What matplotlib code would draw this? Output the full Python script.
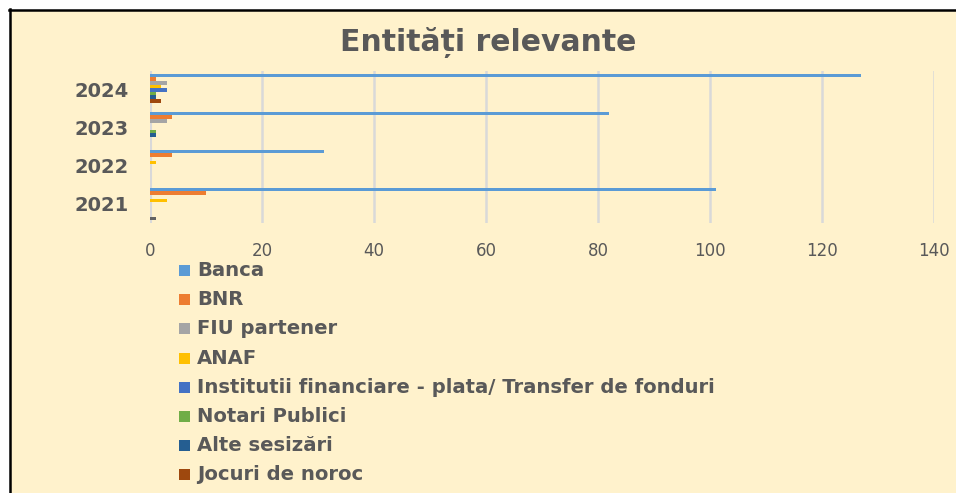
import matplotlib
matplotlib.use("Agg")
import matplotlib.pyplot as plt
from matplotlib.patches import Rectangle
from matplotlib.lines import Line2D
import numpy as np

years = ["2021", "2022", "2023", "2024"]
series_names = ["Banca", "BNR", "FIU partener", "ANAF",
                "Institutii financiare - plata/ Transfer de fonduri",
                "Notari Publici", "Alte sesizări", "Jocuri de noroc", ""]
banca = [101, 31, 82, 127]
bnr = [10, 4, 4, 1]
fiu = [0, 0, 3, 3]
anaf = [3, 1, 0, 2]
institutii = [0, 0, 0, 3]
notari = [0, 0, 1, 1]
alte = [0, 0, 1, 1]
jocuri = [0, 0, 0, 2]
other = [1, 0, 0, 0]
values = [banca, bnr, fiu, anaf, institutii, notari, alte, jocuri, other]
colors = ["#5B9BD5", "#ED7D31", "#A5A5A5", "#FFC000", "#4472C4",
          "#70AD47", "#255E91", "#9E480E", "#636363"]
xticks = [0, 20, 40, 60, 80, 100, 120, 140]

W, H = 956, 493
fig = plt.figure(figsize=(W / 100, H / 100), dpi=100)
fig.patch.set_facecolor("white")

# background panel with border
fig.add_artist(Rectangle((10 / W, 0), 1, 1 - 10 / H, transform=fig.transFigure,
                         facecolor="#FFF2CC", edgecolor="none", zorder=0))
fig.add_artist(Line2D([9 / W, 1], [1 - 10 / H, 1 - 10 / H], transform=fig.transFigure,
                      color="black", lw=1.8, zorder=1))
fig.add_artist(Line2D([10 / W, 10 / W], [0, 1 - 9 / H], transform=fig.transFigure,
                      color="black", lw=1.8, zorder=1))

ax = fig.add_axes([150 / W, 1 - 223 / H, (934 - 150) / W, (223 - 71) / H])
ax.set_facecolor("none")

n = len(values)
h = 0.095
y = np.arange(len(years))
for i, (vals, col) in enumerate(zip(values, colors)):
    off = ((n - 1) / 2 - i) * h
    ax.barh(y + off, vals, height=h, color=col, zorder=3)

ax.set_xlim(0, 140)
ax.set_ylim(-0.5, 3.5)
ax.set_xticks(xticks)
ax.set_xticklabels([str(t) for t in xticks])
ax.set_yticks(y)
ax.set_yticklabels(years)
for s in ax.spines.values():
    s.set_visible(False)
ax.grid(axis="x", color="#D9D9D9", lw=1.8, zorder=1)
ax.axvline(0, color="#D9D9D9", lw=2.2, zorder=2)
ax.tick_params(axis="x", length=0, pad=14, labelsize=12, labelcolor="#595959")
ax.tick_params(axis="y", length=0, pad=15.5, labelsize=14, labelcolor="#595959")
for lab in ax.get_yticklabels():
    lab.set_fontweight("bold")

fig.text(488 / W, 1 - 42 / H, "Entități relevante", ha="center", va="center",
         fontsize=21.5, fontweight="bold", color="#595959")

# legend
for i in range(8):
    yc = 270.7 + i * 29.1
    fig.add_artist(Rectangle((179 / W, 1 - (yc + 5.5) / H), 11 / W, 11 / H,
                             transform=fig.transFigure, facecolor=colors[i],
                             edgecolor="none", zorder=3))
    fig.text(197 / W, 1 - yc / H, series_names[i], ha="left", va="center",
             fontsize=14.1, fontweight="bold", color="#595959")

fig.savefig("out.png", dpi=100, facecolor=fig.get_facecolor())
